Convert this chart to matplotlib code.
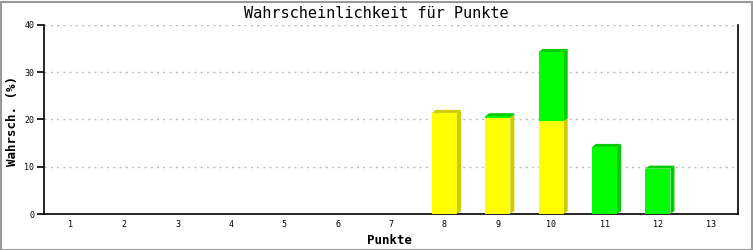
import matplotlib
matplotlib.use("Agg")
import matplotlib.pyplot as plt
from matplotlib.patches import Polygon, Rectangle

punkte = ["1", "2", "3", "4", "5", "6", "7", "8", "9", "10", "11", "12", "13"]
gelb = [0, 0, 0, 0, 0, 0, 0, 21.4, 20.4, 19.7, 0, 0, 0]
gruen = [0, 0, 0, 0, 0, 0, 0, 0, 0.3, 14.6, 14.2, 9.6, 0]

farben = [("#ffff00", "#cccc00"), ("#00ff00", "#00cc00")]

W, H = 753, 250
fig = plt.figure(figsize=(W / 100, H / 100), dpi=100)
fig.patch.set_facecolor("white")
fig.patches.append(Rectangle((0.5 / W, 0.5 / H), 1 - 2 / W, 1 - 2 / H, transform=fig.transFigure,
                             fill=False, edgecolor="#999999", linewidth=1.5))

left, right, bottom, top = 44, 738, 214, 25
ax = fig.add_axes([left / W, 1 - bottom / H, (right - left) / W, (bottom - top) / H])
ax.set_xlim(-0.5, len(punkte) - 0.5)
ax.set_ylim(0, 40)

# depth of the fake 3d in pixels -> data units
px_x = (len(punkte)) / (right - left)
px_y = 40 / (bottom - top)
dx, dy = 4 * px_x, 3 * px_y
bw = 0.47

for y in [10, 20, 30, 40]:
    ax.axhline(y, color="#bbbbbb", linestyle=(0, (1.5, 3)), linewidth=1, zorder=0)

for i in range(len(punkte)):
    base = 0
    for vals, (front, shade) in zip([gelb, gruen], farben):
        h = vals[i]
        if h <= 0:
            continue
        x0, x1 = i - bw / 2, i + bw / 2
        y0, y1 = base, base + h
        ax.add_patch(Polygon([(x1, y0), (x1 + dx, y0 + dy), (x1 + dx, y1 + dy), (x1, y1)],
                             closed=True, facecolor=shade, edgecolor="none", zorder=2))
        ax.add_patch(Polygon([(x0, y1), (x1, y1), (x1 + dx, y1 + dy), (x0 + dx, y1 + dy)],
                             closed=True, facecolor=shade, edgecolor="none", zorder=2))
        ax.add_patch(Rectangle((x0, y0), bw, h, facecolor=front, edgecolor="none", zorder=3))
        base = y1

ax.spines["top"].set_visible(False)
for s in ["left", "right", "bottom"]:
    ax.spines[s].set_color("black")
    ax.spines[s].set_linewidth(1.2)

mono = "DejaVu Sans Mono"
ax.set_xticks(range(len(punkte)))
ax.set_xticklabels(punkte, fontsize=6, family=mono)
ax.tick_params(axis="x", length=0, pad=4)
ax.set_yticks([0, 10, 20, 30, 40])
ax.set_yticklabels(["0", "10", "20", "30", "40"], fontsize=6, family=mono)
ax.tick_params(axis="y", length=5, width=1.2, pad=2)

fig.text(376 / W, 1 - 13 / H, "Wahrscheinlichkeit für Punkte", ha="center", va="center",
         fontsize=11, family=mono)
fig.text(390 / W, 1 - 240 / H, "Punkte", ha="center", va="center", fontsize=9,
         family=mono, fontweight="bold")
fig.text(13 / W, 1 - 121 / H, "Wahrsch. (%)", ha="center", va="center", rotation=90,
         fontsize=9, family=mono, fontweight="bold")

fig.savefig("out.png", dpi=100)
